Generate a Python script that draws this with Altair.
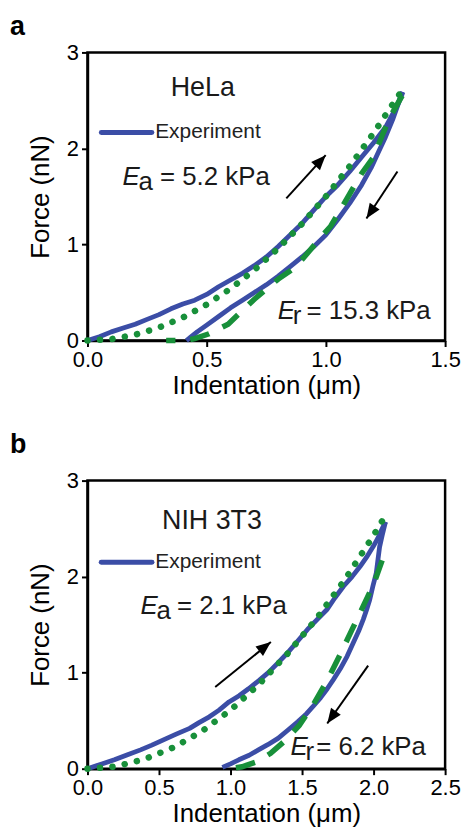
import altair as alt
import pandas as pd

FONT = "Liberation Sans"
BLUE = "#3B4DA6"
GREEN = "#18903A"

# ---------------- Panel a (HeLa) ----------------
a_load_x = [0, 0.05, 0.1, 0.15, 0.2, 0.25, 0.3, 0.35, 0.4, 0.45, 0.5, 0.55, 0.6, 0.65, 0.7,
            0.75, 0.8, 0.85, 0.9, 0.95, 1.0, 1.05, 1.1, 1.15, 1.2, 1.25, 1.3, 1.32]
a_load_y = [0, 0.04, 0.09, 0.13, 0.17, 0.22, 0.27, 0.33, 0.38, 0.42, 0.48, 0.56, 0.63, 0.7, 0.78,
            0.87, 0.98, 1.1, 1.22, 1.36, 1.5, 1.62, 1.76, 1.91, 2.06, 2.22, 2.45, 2.59]
a_unload_x = [1.323, 1.30, 1.28, 1.25, 1.22, 1.19, 1.15, 1.10, 1.05, 1.00, 0.95, 0.90, 0.85,
              0.80, 0.75, 0.70, 0.65, 0.60, 0.55, 0.50, 0.46, 0.43, 0.415]
a_unload_y = [2.586, 2.44, 2.30, 2.12, 1.96, 1.80, 1.62, 1.43, 1.26, 1.10, 0.98, 0.87, 0.77,
              0.67, 0.58, 0.50, 0.42, 0.34, 0.25, 0.16, 0.09, 0.03, 0.0]
a_fitload_x = [0, 0.1, 0.2, 0.3, 0.4, 0.5, 0.6, 0.7, 0.8, 0.9, 1.0, 1.1, 1.2, 1.3, 1.32]
a_fitload_y = [0, 0.015, 0.06, 0.135, 0.24, 0.375, 0.54, 0.735, 0.96, 1.215, 1.5, 1.815, 2.16, 2.535, 2.6]
a_fitun_x = [1.32, 1.27, 1.24, 1.2, 1.15, 1.11, 1.07, 1.02, 0.97, 0.92, 0.87, 0.8, 0.7, 0.59, 0.51, 0.45, 0.41, 0.33]
a_fitun_y = [2.55, 2.33, 2.16, 1.91, 1.74, 1.57, 1.4, 1.19, 1.05, 0.9, 0.76, 0.64, 0.43, 0.17, 0.07, 0.02, 0.0, 0.0]

# ---------------- Panel b (NIH 3T3) ----------------
b_load_x = [0, 0.1, 0.188, 0.28, 0.371, 0.45, 0.531, 0.62, 0.714, 0.78, 0.852, 0.92, 0.989, 1.06,
            1.126, 1.2, 1.264, 1.33, 1.401, 1.47, 1.538, 1.61, 1.676, 1.73, 1.79, 1.85, 1.905,
            1.95, 1.996, 2.03, 2.054, 2.083]
b_load_y = [0, 0.05, 0.093, 0.145, 0.196, 0.245, 0.3, 0.36, 0.42, 0.48, 0.54, 0.61, 0.695, 0.76,
            0.832, 0.92, 1.0, 1.1, 1.21, 1.33, 1.45, 1.56, 1.66, 1.78, 1.9, 2.0, 2.105,
            2.2, 2.31, 2.4, 2.48, 2.57]
b_unload_x = [2.083, 2.06, 2.042, 2.03, 2.019, 1.995, 1.973, 1.95, 1.928, 1.895, 1.859, 1.815,
              1.767, 1.72, 1.676, 1.63, 1.584, 1.53, 1.47, 1.40, 1.332, 1.26, 1.195, 1.13,
              1.058, 1.0, 0.943]
b_unload_y = [2.57, 2.43, 2.31, 2.17, 2.04, 1.9, 1.76, 1.65, 1.555, 1.43, 1.314, 1.17,
              1.04, 0.93, 0.832, 0.74, 0.66, 0.57, 0.488, 0.40, 0.316, 0.25, 0.196, 0.14,
              0.093, 0.05, 0.014]
b_fitload_x = [0, 0.2, 0.4, 0.6, 0.8, 1.0, 1.2, 1.4, 1.6, 1.8, 2.0, 2.08]
b_fitload_y = [0, 0.024, 0.1, 0.22, 0.39, 0.61, 0.88, 1.2, 1.56, 1.97, 2.43, 2.63]
b_fitun_x = [2.06, 2.0, 1.93, 1.85, 1.77, 1.68, 1.58, 1.48, 1.38, 1.28, 1.18, 1.08, 0.99]
b_fitun_y = [2.17, 1.92, 1.7, 1.45, 1.2, 0.93, 0.67, 0.45, 0.29, 0.16, 0.07, 0.02, 0.0]

x_ticks_a = [0, 0.5, 1.0, 1.5]
x_ticks_b = [0, 0.5, 1.0, 1.5, 2.0, 2.5]
y_ticks = [0, 1, 2, 3]

W, H = 360, 290


def curves_df(lx, ly, ux, uy, fx, fy, gx, gy):
    rows = []
    for key, xs, ys in (("exp_load", lx, ly), ("exp_unload", ux, uy),
                        ("fit_load", fx, fy), ("fit_unload", gx, gy)):
        for i, (x, y) in enumerate(zip(xs, ys)):
            rows.append({"x": x, "y": y, "key": key, "i": i})
    return pd.DataFrame(rows)


def panel(label, label_y, name, df, xmax, xticks, legend_x, legend_y, legtext,
          name_pos, ea_pos, ea_text, ea_sub, ea_dx, er_pos, er_text, er_sub, er_dx,
          arrows, arrow_angles):
    xs = alt.Scale(domain=[0, xmax], nice=False, zero=True)
    ys = alt.Scale(domain=[0, 3], nice=False)
    X = alt.X("x:Q", scale=xs, axis=alt.Axis(values=xticks, format=".1f", title="Indentation (μm)"))
    Y = alt.Y("y:Q", scale=ys, axis=alt.Axis(values=y_ticks, format="d", title="Force (nN)"))
    base = alt.Chart(df)

    blue = base.transform_filter(alt.FieldOneOfPredicate(field="key", oneOf=["exp_load", "exp_unload"])).mark_line(
        color=BLUE, strokeWidth=4.8, strokeJoin="round").encode(x=X, y=Y, detail="key:N", order="i:Q")
    dots = base.transform_filter(alt.datum.key == "fit_load").mark_line(
        color=GREEN, strokeWidth=6.5, strokeDash=[0.1, 12.5], strokeCap="round").encode(x=X, y=Y, order="i:Q")
    dash = base.transform_filter(alt.datum.key == "fit_unload").mark_line(
        color=GREEN, strokeWidth=5.5, strokeDash=[20, 15]).encode(x=X, y=Y, order="i:Q")

    # legend
    leg_df = pd.DataFrame({"x": [legend_x[0]], "x2": [legend_x[1]], "y": [legend_y]})
    leg_line = alt.Chart(leg_df).mark_rule(color=BLUE, strokeWidth=5, strokeCap="round").encode(
        x=alt.X("x:Q", scale=xs), x2="x2:Q", y=alt.Y("y:Q", scale=ys))
    txt_df = pd.DataFrame({"x": [legtext[0]], "y": [legtext[1]], "t": ["Experiment"]})
    leg_txt = alt.Chart(txt_df).mark_text(font=FONT, fontSize=21, align="left", baseline="alphabetic",
                                          color="#222222").encode(
        x=alt.X("x:Q", scale=xs), y=alt.Y("y:Q", scale=ys), text="t:N")

    name_df = pd.DataFrame({"x": [name_pos[0]], "y": [name_pos[1]], "t": [name]})
    name_txt = alt.Chart(name_df).mark_text(font=FONT, fontSize=27, align="center", baseline="alphabetic",
                                            color="#1a1a1a").encode(
        x=alt.X("x:Q", scale=xs), y=alt.Y("y:Q", scale=ys), text="t:N")

    lab_df = pd.DataFrame({"t": [label]})
    lab_txt = alt.Chart(lab_df).mark_text(font=FONT, fontSize=27, fontWeight="bold", align="left",
                                          baseline="alphabetic", color="black").encode(
        x=alt.value(-78), y=alt.value(label_y), text="t:N")

    layers = [blue, dots, dash, leg_line, leg_txt, name_txt, lab_txt]
    for pos, sub, rest, dxs in ((ea_pos, ea_sub, ea_text, ea_dx), (er_pos, er_sub, er_text, er_dx)):
        d = pd.DataFrame({"x": [pos[0]], "y": [pos[1]]})
        enc = dict(x=alt.X("x:Q", scale=xs), y=alt.Y("y:Q", scale=ys))
        layers.append(alt.Chart(d).mark_text(font=FONT, fontSize=26, fontStyle="italic", align="left",
                                             baseline="alphabetic", color="#1a1a1a", text="E").encode(**enc))
        layers.append(alt.Chart(d).mark_text(font=FONT, fontSize=26, align="left", baseline="alphabetic",
                                             color="#1a1a1a", text=sub, dx=dxs[0], dy=5).encode(**enc))
        layers.append(alt.Chart(d).mark_text(font=FONT, fontSize=26, align="left", baseline="alphabetic",
                                             color="#1a1a1a", text=rest, dx=dxs[1]).encode(**enc))

    for (x0, y0, x1, y1), ang in zip(arrows, arrow_angles):
        d = pd.DataFrame({"x": [x0], "y": [y0], "x2": [x1], "y2": [y1]})
        layers.append(alt.Chart(d).mark_rule(color="black", strokeWidth=2).encode(
            x=alt.X("x:Q", scale=xs), y=alt.Y("y:Q", scale=ys), x2="x2:Q", y2="y2:Q"))
        layers.append(alt.Chart(d).mark_point(shape="M0,0L0.8,2L-0.8,2Z", size=225, filled=True,
                                              color="black", opacity=1, angle=ang).encode(
            x=alt.X("x2:Q", scale=xs), y=alt.Y("y2:Q", scale=ys)))

    return alt.layer(*layers).properties(width=W, height=H)


dfa = curves_df(a_load_x, a_load_y, a_unload_x, a_unload_y, a_fitload_x, a_fitload_y, a_fitun_x, a_fitun_y)
dfb = curves_df(b_load_x, b_load_y, b_unload_x, b_unload_y, b_fitload_x, b_fitload_y, b_fitun_x, b_fitun_y)

pa = panel("a", -18, "HeLa", dfa, 1.5, x_ticks_a, (0.058, 0.27), 2.166, (0.284, 2.104),
           (0.4835, 2.542), (0.147, 1.621), "= 5.2 kPa", "a", (16, 37.7),
           (0.798, 0.224), "= 15.3 kPa", "r", (15, 29),
           [(0.834, 1.48, 0.999, 1.93), (1.30, 1.76, 1.17, 1.27)], [42.6, 213.6])
pb = panel("b", -28, "NIH 3T3", dfb, 2.5, x_ticks_b, (0.096, 0.451), 2.15, (0.474, 2.09),
           (0.870, 2.50), (0.371, 1.607), "= 2.1 kPa", "a", (16, 36.7),
           (1.42, 0.145), "= 6.2 kPa", "r", (15, 25.7),
           [(0.893, 0.85, 1.282, 1.32), (1.962, 1.073, 1.676, 0.471)], [51.2, 215.5])

chart = alt.vconcat(pa, pb, spacing=29).properties(
    padding={"left": 0, "top": 0, "right": 0, "bottom": 0}
).configure_view(stroke="black", strokeWidth=2.5).configure_axis(
    labelFont=FONT, titleFont=FONT, labelFontSize=22, titleFontSize=26, titleFontWeight="normal",
    labelColor="black", titleColor="black", domainColor="black", tickColor="black",
    domainWidth=2.5, tickWidth=2, tickSize=6, grid=False, labelPadding=3, labelFlush=False,
    labelOverlap=False,
).configure_axisY(titlePadding=13).configure_axisX(titlePadding=2)

chart.save("out.html", embed_options={"renderer": "svg", "actions": False})
